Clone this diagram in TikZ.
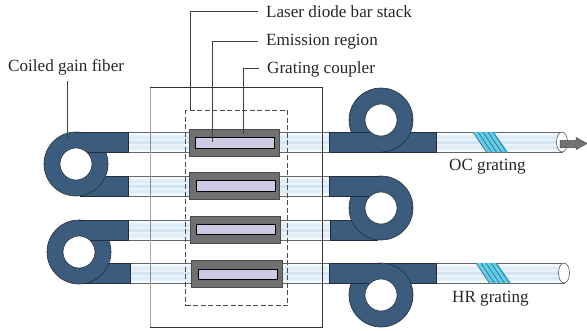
\documentclass[tikz,border=0pt]{standalone}
\usepackage{fontspec}
\setmainfont{Liberation Serif}
\definecolor{gain}{RGB}{60,92,125}
\definecolor{barg}{RGB}{112,112,112}
\definecolor{lilac}{RGB}{206,202,230}
\definecolor{edgeb}{RGB}{35,45,60}
\definecolor{fibl}{RGB}{200,224,242}
\definecolor{cyang}{RGB}{90,208,240}
\pgfdeclareverticalshading{fibshade}{100bp}{
 color(0bp)=(white); color(25bp)=(white); color(38bp)=(fibl!70); color(44bp)=(white!70!fibl); color(50bp)=(fibl); color(56bp)=(white!70!fibl); color(62bp)=(fibl!70); color(75bp)=(white); color(100bp)=(white)}
\tikzset{
 fib/.style={shading=fibshade,draw=black!60,line width=.6pt},
 gainband/.style={fill=gain,draw=none},
 edge/.style={draw=edgeb,line width=.6pt},
 coilout/.style={fill=gain,draw=edgeb,line width=.6pt},
 coilin/.style={fill=white,draw=edgeb,line width=.6pt},
 barbox/.style={rectangle,draw=black!70,fill=barg,line width=.8pt,minimum width=90.6pt,minimum height=27.2pt,inner sep=0pt,outer sep=0pt},
 emit/.style={rectangle,draw=black,fill=lilac,line width=.8pt,minimum width=79pt,minimum height=10.6pt,inner sep=0pt,outer sep=0pt},
 lbl/.style={inner sep=0pt,font=\fontsize{17.1}{20}\selectfont,text=black!85},
 lead/.style={draw=black!75,line width=.6pt},
 grat/.style={fill=cyang,draw=none},
 gratl/.style={draw=black!70,line width=.5pt},
}
\begin{document}
\begin{tikzpicture}[x=1pt,y=-1pt]
\useasboundingbox (0,0) rectangle (587,330);
% clear fibres
\foreach \t/\a/\b in {132/128/329,176/128/329,220/128/330,263/130/329}{
 \draw[fib] (\a,\t) rectangle (\b,\t+20);
}
\draw[fib] (436,132) rectangle (562,152);
\draw[fib] (436,263) rectangle (564,283);
\draw[fill=white,draw=black!65,line width=.6pt] (562,142) ellipse [x radius=5.5pt,y radius=10pt];
\draw[fill=white,draw=black!65,line width=.6pt] (564,273) ellipse [x radius=5.5pt,y radius=10pt];
% gratings
\fill[grat] (473,132) -- (494,132) -- (508,152) -- (486,152) -- cycle;
\foreach \d in {0,5,10,15,20}{\draw[gratl] (473+\d,132) -- (486.4+\d,152);}
\fill[grat] (476,263) -- (497,263) -- (511,283) -- (489,283) -- cycle;
\foreach \d in {0,5,10,15,20}{\draw[gratl] (476+\d,263) -- (489.4+\d,283);}
% left coil 1
\fill[gainband] (80,176) rectangle (128,196);
\draw[edge] (80,176) -- (128,176) -- (128,196) -- (80,196);
\draw[coilout] (76,164) circle [radius=32pt];
\fill[gainband] (76,132) rectangle (128,152);
\draw[edge] (76,132) -- (128,132) -- (128,152) -- (87,152);
\draw[coilin] (76,164) circle [radius=16pt];
% left coil 2
\fill[gainband] (83,263) rectangle (130.5,283);
\draw[edge] (83,263) -- (130.5,263) -- (130.5,283) -- (83,283);
\draw[coilout] (79,252) circle [radius=32pt];
\fill[gainband] (79,220) rectangle (128,240);
\draw[edge] (79,220) -- (128,220) -- (128,240) -- (90,240);
\draw[coilin] (79,252) circle [radius=16pt];
% right coil 1
\fill[gainband] (381,132) rectangle (436,152);
\draw[edge] (381,132) -- (436,132) -- (436,152) -- (381,152);
\draw[coilout] (381,120) circle [radius=32pt];
\fill[gainband] (329,132) rectangle (381,152);
\draw[edge] (370,132) -- (329,132) -- (329,152) -- (381,152);
\draw[coilin] (381,120) circle [radius=16pt];
% right coil 2
\fill[gainband] (330,220) rectangle (378,240);
\draw[edge] (378,220) -- (330,220) -- (330,240) -- (378,240);
\draw[coilout] (381,208) circle [radius=32pt];
\fill[gainband] (329,176) rectangle (381,196);
\draw[edge] (381,176) -- (329,176) -- (329,196) -- (370,196);
\draw[coilin] (381,208) circle [radius=16pt];
% right coil 3
\fill[gainband] (381,263) rectangle (436,283);
\draw[edge] (381,263) -- (436,263) -- (436,283) -- (381,283);
\draw[coilout] (381,295) circle [radius=32pt];
\fill[gainband] (329,263) rectangle (381,283);
\draw[edge] (381,263) -- (329,263) -- (329,283) -- (370,283);
\draw[coilin] (381,295) circle [radius=16pt];
% housing and stack
\draw[black!35,line width=.9pt] (150,87.5) -- (150,327);
\draw[black!80,line width=.6pt] (150,87.5) -- (322,87.5) -- (322,327) -- (150,327);
\draw[black!45,line width=.5pt] (150,132) -- (150,152) (150,176) -- (150,196) (150,220) -- (150,240) (150,263) -- (150,283);
\node[draw=black!70,dash pattern=on 5pt off 2.5pt,line width=.7pt,fill=none,rectangle,minimum width=102pt,minimum height=195pt,inner sep=0pt,outer sep=0pt] (stack) at (236.5,208) {};
% bars
\node[barbox] (bar1) at (234.3,143.1) {};
\node[barbox] (bar2) at (234.3,185.8) {};
\node[barbox] (bar3) at (235.3,229.5) {};
\node[barbox] (bar4) at (237,274) {};
\node[emit] (em1) at (235.3,143) {};
\node[emit] (em2) at (235.7,185.8) {};
\node[emit] (em3) at (235.7,229.5) {};
\node[emit] (em4) at (238,274.2) {};
% arrow
\fill[draw=black!75,fill=black!55,line width=.5pt] (560,140.5) -- (576,140.5) -- (576,137.5) -- (587,143.5) -- (576,149.5) -- (576,147.5) -- (560,147.5) -- cycle;
% labels
\node[lbl,anchor=west] (lLaser) at (266,12) {Laser diode bar stack};
\node[lbl,anchor=west] (lEmit) at (266,42) {Emission region};
\node[lbl,anchor=west] (lGrat) at (267,69) {Grating coupler};
\node[lbl,anchor=west] (lCoil) at (8,67) {Coiled gain fiber};
\node[lbl,anchor=west] (lOC) at (449,167) {OC grating};
\node[lbl,anchor=west] (lHR) at (452,299) {HR grating};
\coordinate (cLaser) at (190,110.5);
\coordinate (cEmit) at (212,142);
\coordinate (cGrat) at (243,134);
\coordinate (cCoil) at (67,140);
\coordinate (sCoil) at (67,81);
\draw[lead] (258,11) -- (190,11) -- (cLaser);
\draw[lead] (258,41) -- (212,41) -- (cEmit);
\draw[lead] (259,68) -- (243,68) -- (cGrat);
\draw[lead] (sCoil) -- (cCoil);
\end{tikzpicture}
\end{document}
